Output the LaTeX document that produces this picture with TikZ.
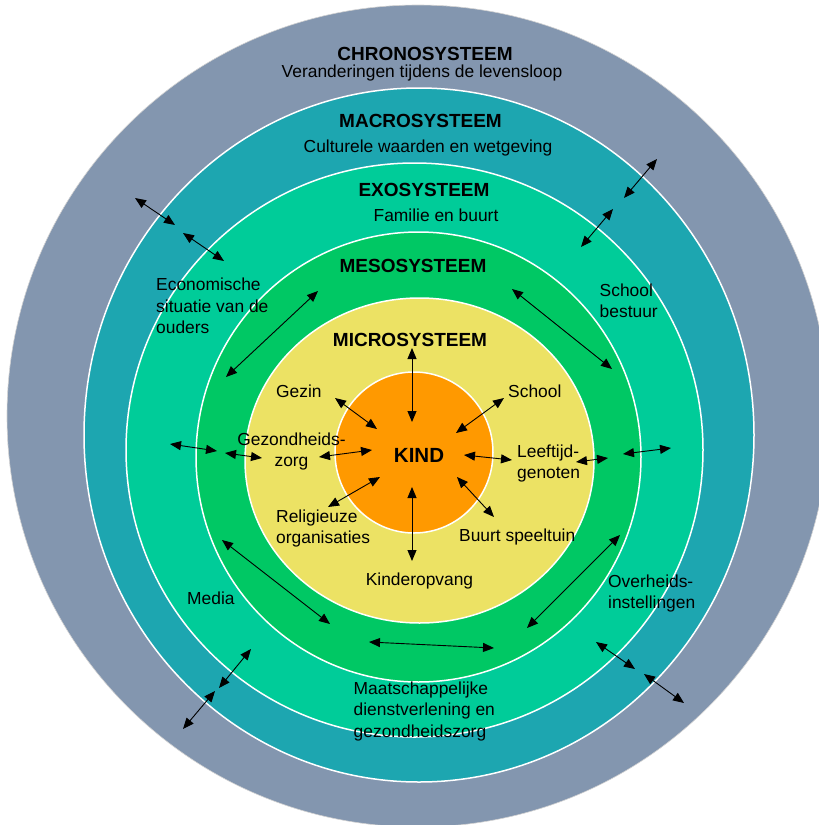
\documentclass[tikz,border=0pt]{standalone}
\usepackage{fontspec}
\setmainfont{Liberation Sans}
\usetikzlibrary{positioning,arrows.meta}
\definecolor{chronocol}{RGB}{131,150,175}
\definecolor{macrocol}{RGB}{29,166,176}
\definecolor{exocol}{RGB}{0,204,153}
\definecolor{mesocol}{RGB}{0,200,100}
\definecolor{microcol}{RGB}{236,226,100}
\definecolor{kindcol}{RGB}{255,153,0}

\begin{document}
\begin{tikzpicture}[%
	x=1pt, y=-1pt,
	>={Triangle[length=11pt,width=9pt]},
	ring/.style={draw=white, line width=1.5pt},
	title/.style={font=\fontsize{19}{23}\selectfont\bfseries, inner sep=0, anchor=base},
	sub/.style={font=\fontsize{17.4}{21.3}\selectfont, inner sep=0, anchor=base},
	lbl/.style={font=\fontsize{17.4}{21.3}\selectfont, inner sep=0, anchor=base west, align=left},
	link/.style={<->, line width=0.9pt}
	]
	\clip (0,0) rectangle (819,825);
	\fill[white] (0,0) rectangle (819,825);
	
	\draw[draw=gray!35, line width=0.6pt, fill=chronocol] (418,416) circle (411);
	\draw[ring, fill=macrocol] (419,435) ellipse (335 and 347);
	\draw[ring, fill=exocol] (414.5,450) ellipse (288.5 and 287);
	\draw[ring, fill=mesocol] (418.5,457) ellipse (222.5 and 225);
	\draw[ring, fill=microcol] (419.5,460.5) ellipse (174.5 and 162.5);
	\draw[ring, fill=kindcol] (414,452.5) ellipse (79 and 80.5);
	
	\node[title] (chrono) at (425,60) {CHRONOSYSTEEM};
	\node[sub] (chronotxt) at (422,77) {Veranderingen tijdens de levensloop};
	\node[title] (macro) at (420.5,127) {MACROSYSTEEM};
	\node[sub] (macrotxt) at (428,152) {Culturele waarden en wetgeving};
	\node[title] (exo) at (424,196) {EXOSYSTEEM};
	\node[sub] (exotxt) at (436,221) {Familie en buurt};
	\node[title] (meso) at (413,272) {MESOSYSTEEM};
	\node[title] (micro) at (410,346) {MICROSYSTEEM};
	\node[title, font=\fontsize{20.5}{24}\selectfont\bfseries] (kind) at (419,462) {KIND};
	
	\node[lbl] (gezin) at (276,397) {Gezin};
	\node[lbl] (school) at (508,397) {School};
	\node[sub, align=center] (zorg) at (291.5,466.7) {Gezondheids-\\zorg};
	\node[lbl] (leeftijd) at (517,478.3) {Leeftijd-\\genoten};
	\node[lbl] (religie) at (276,543.3) {Religieuze\\organisaties};
	\node[lbl] (buurt) at (459,541.7) {Buurt speeltuin};
	\node[sub] (opvang) at (419.5,585) {Kinderopvang};
	
	\node[lbl] (economie) at (156,333.3) {Economische\\situatie van de\\ouders};
	\node[lbl] (bestuur) at (599.5,317.5) {School\\bestuur};
	\node[lbl] (media) at (187,604.3) {Media};
	\node[lbl] (overheid) at (608,608.3) {Overheids-\\instellingen};
	\node[lbl] (dienst) at (353.5,737) {Maatschappelijke\\dienstverlening en\\gezondheidszorg};
	
	\foreach \n/\a/\b/\c/\d in {1/412/348/412/422, 2/412/487/412/561, 3/335/398/377/429,
		4/504/398/456/433, 5/319/457/372/450, 6/464/455/512/460, 7/328/507/380/477,
		8/457/477/494/517, 9/318/291/226/377, 10/512/289/612/369, 11/222/540/330/624,
		12/620/535/527/628, 13/369/642/494/648, 14/225/453/262/458, 15/576/462/608/458,
		16/170/444/217/451, 17/623/454/671/448, 18/183/233/224/261, 19/135/198/175/225,
		20/581/247/613/209, 21/624/198/657/159, 22/251/649/219/688, 23/215/691/183/729,
		24/596/642/635/669, 25/644/674/684/703}{
		\coordinate (s\n) at (\a,\b);
		\coordinate (e\n) at (\c,\d);
		\draw[link] (s\n) -- (e\n);
	}
\end{tikzpicture}
\end{document}
